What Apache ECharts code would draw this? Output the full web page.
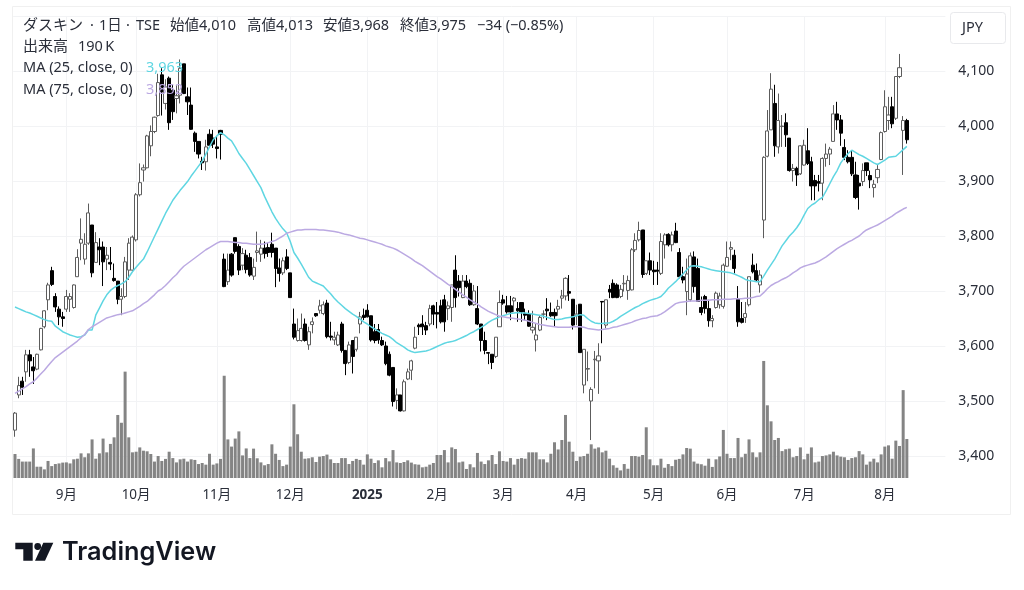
<!DOCTYPE html>
<html>
<head>
<meta charset="utf-8">
<style>
  html, body { margin: 0; padding: 0; background: #fff; }
  #chart { width: 1024px; height: 590px; }
</style>
<script src="https://cdn.jsdelivr.net/npm/echarts@6/dist/echarts.min.js"></script>
</head>
<body>
<div id="chart"></div>
<script>
// ローソク足 (one row = 10 bars)
var opens = [
  3447,3511,3536,3553,3584,3562,3558,3593,3635,3684,
  3737,3690,3667,3653,3667,3685,3670,3726,3787,3758,
  3787,3820,3752,3780,3780,3758,3752,3723,3718,3685,
  3690,3738,3738,3793,3875,3920,3924,3964,3990,4019,
  4093,4041,4087,4065,4050,4056,4113,4053,4038,3987,
  3972,3936,3935,3985,3978,3962,3992,3758,3717,3767,
  3797,3781,3747,3765,3761,3727,3770,3767,3778,3779,
  3785,3778,3742,3733,3762,3733,3640,3610,3610,3640,
  3602,3639,3659,3665,3659,3678,3618,3611,3602,3640,
  3592,3570,3610,3594,3640,3656,3665,3655,3626,3630,
  3610,3600,3585,3561,3501,3511,3482,3540,3556,3596,
  3638,3640,3637,3640,3673,3661,3673,3684,3668,3670,
  3738,3718,3688,3718,3714,3675,3668,3640,3610,3588,
  3585,3581,3635,3684,3673,3673,3682,3668,3679,3659,
  3658,3629,3611,3629,3658,3667,3661,3661,3667,3687,
  3691,3699,3685,3655,3676,3529,3558,3500,3575,3573,
  3681,3638,3703,3714,3711,3690,3713,3701,3702,3775,
  3793,3811,3732,3755,3738,3738,3732,3784,3803,3784,
  3809,3770,3726,3699,3684,3762,3741,3670,3690,3668,
  3646,3670,3675,3672,3745,3776,3765,3685,3650,3652,
  3675,3747,3737,3711,3829,3945,3993,4041,3962,3999,
  4006,3978,3919,3923,3913,3929,3955,3935,3901,3899,
  3896,3941,3949,3972,4022,4011,3961,3943,3943,3911,
  3896,3899,3933,3910,3888,3906,3939,3990,4010,4035,
  4014,4090,3992,4010
]
var closes = [
  3478,3528,3525,3584,3573,3555,3585,3632,3664,3711,
  3712,3671,3653,3650,3690,3690,3711,3761,3794,3785,
  3842,3733,3788,3775,3753,3765,3749,3719,3685,3690,
  3753,3787,3798,3875,3897,3924,3982,3990,4016,4079,
  4062,4071,4006,4026,4055,4105,4059,4044,3994,3972,
  3949,3933,3962,3965,3967,3959,3985,3708,3738,3729,
  3772,3738,3768,3739,3729,3743,3773,3778,3768,3770,
  3770,3741,3732,3755,3741,3688,3616,3628,3632,3610,
  3626,3644,3655,3673,3675,3617,3616,3616,3620,3592,
  3568,3602,3581,3616,3653,3652,3653,3611,3610,3611,
  3602,3568,3547,3499,3511,3482,3535,3553,3573,3616,
  3635,3635,3629,3668,3658,3658,3644,3644,3673,3711,
  3688,3706,3718,3708,3675,3700,3640,3610,3592,3587,
  3570,3616,3679,3678,3662,3662,3687,3664,3662,3656,
  3636,3634,3620,3652,3658,3664,3655,3655,3672,3691,
  3723,3696,3638,3658,3588,3594,3559,3521,3576,3582,
  3680,3684,3698,3688,3688,3703,3714,3719,3775,3792,
  3810,3730,3755,3738,3735,3736,3790,3802,3784,3802,
  3788,3726,3720,3731,3764,3708,3681,3661,3668,3646,
  3650,3696,3691,3747,3761,3779,3741,3644,3643,3659,
  3726,3735,3720,3729,3943,3991,4067,3964,4010,4000,
  3984,3919,3923,3911,3964,3965,3932,3891,3891,3896,
  3941,3949,3958,4022,4011,3987,3943,3935,3913,3870,
  3891,3919,3919,3902,3894,3921,3988,4035,4020,4004,
  4090,4106,4010,3975
]
var lows = [
  3435,3505,3511,3535,3544,3531,3556,3592,3632,3665,
  3709,3662,3638,3635,3662,3662,3668,3726,3756,3748,
  3784,3725,3752,3747,3709,3738,3738,3717,3676,3656,
  3687,3720,3735,3790,3872,3899,3923,3945,3987,4017,
  4019,4030,3993,4011,4023,4041,4058,4020,3993,3953,
  3941,3920,3919,3962,3960,3941,3939,3707,3711,3726,
  3768,3729,3738,3732,3726,3720,3753,3753,3759,3762,
  3761,3707,3717,3729,3738,3688,3612,3608,3608,3608,
  3593,3623,3653,3659,3656,3614,3610,3602,3600,3588,
  3547,3567,3550,3590,3623,3647,3652,3608,3605,3604,
  3600,3565,3545,3490,3485,3481,3481,3538,3538,3594,
  3620,3620,3620,3636,3638,3632,3641,3626,3647,3644,
  3670,3690,3687,3705,3673,3673,3638,3590,3585,3567,
  3558,3578,3635,3675,3659,3647,3662,3644,3644,3647,
  3635,3623,3590,3627,3650,3647,3653,3636,3655,3668,
  3683,3682,3630,3638,3588,3514,3536,3429,3523,3513,
  3605,3632,3687,3687,3687,3687,3699,3684,3701,3771,
  3790,3724,3729,3729,3711,3711,3729,3759,3781,3772,
  3787,3723,3714,3656,3681,3697,3681,3656,3659,3635,
  3634,3668,3668,3668,3744,3756,3732,3635,3641,3642,
  3672,3732,3717,3697,3796,3943,3993,3944,3950,3962,
  3962,3917,3899,3891,3911,3928,3929,3865,3865,3881,
  3865,3926,3929,3972,3993,3964,3938,3932,3909,3867,
  3848,3891,3909,3887,3870,3896,3938,3988,3993,3996,
  4011,4087,3911,3968
]
var highs = [
  3480,3544,3544,3593,3593,3580,3586,3633,3665,3715,
  3744,3696,3672,3662,3702,3696,3712,3776,3832,3805,
  3859,3820,3807,3796,3790,3780,3780,3750,3718,3705,
  3762,3796,3801,3878,3932,3930,3984,4001,4017,4095,
  4105,4085,4090,4075,4075,4121,4113,4070,4070,3990,
  3972,3944,3975,3994,3993,3981,3993,3768,3768,3769,
  3797,3785,3778,3775,3769,3759,3808,3793,3790,3787,
  3806,3778,3759,3761,3776,3733,3668,3650,3659,3650,
  3635,3652,3660,3684,3681,3684,3644,3626,3626,3644,
  3592,3608,3610,3616,3662,3668,3676,3655,3640,3640,
  3617,3608,3590,3561,3523,3511,3539,3559,3575,3635,
  3641,3656,3644,3675,3675,3680,3684,3693,3681,3711,
  3765,3729,3729,3729,3721,3711,3709,3640,3626,3588,
  3585,3616,3701,3693,3691,3691,3689,3680,3679,3668,
  3665,3664,3641,3656,3665,3687,3679,3668,3684,3702,
  3725,3729,3685,3675,3676,3594,3590,3525,3591,3605,
  3681,3684,3711,3721,3714,3711,3729,3728,3778,3805,
  3826,3811,3755,3770,3755,3753,3805,3805,3805,3808,
  3824,3778,3744,3759,3770,3772,3759,3690,3693,3684,
  3656,3699,3697,3750,3790,3790,3775,3709,3680,3680,
  3726,3768,3750,3738,3945,4029,4096,4075,4059,4020,
  4023,3978,3931,3926,3965,3975,3996,3944,3911,3911,
  3943,3968,3962,4038,4044,4020,3976,3956,3956,3935,
  3911,3932,3933,3919,3902,3929,3990,4065,4053,4053,
  4090,4131,4018,4013
]
// 出来高 (K)
var volumes = [
  117,93,80,80,80,144,55,55,42,83,
  58,68,71,75,76,71,91,94,120,101,
  120,188,94,120,192,125,166,198,307,269,
  518,198,125,128,149,133,130,117,80,107,
  83,93,128,97,76,91,94,80,91,88,
  68,73,65,118,65,71,93,498,188,153,
  192,227,110,144,97,143,96,76,62,68,
  164,118,88,58,65,153,359,213,128,94,
  96,101,78,104,107,114,91,73,73,97,
  97,68,83,93,88,65,115,94,73,86,
  52,97,81,136,76,73,78,86,75,67,
  65,52,55,65,73,112,112,136,76,149,
  141,76,80,44,67,52,122,80,68,86,
  112,68,130,83,80,97,65,93,97,94,
  125,125,125,91,91,76,118,174,139,185,
  307,177,128,83,104,107,118,164,143,149,
  125,133,94,62,50,37,68,45,107,107,
  104,112,247,91,62,62,94,50,68,58,
  89,93,115,146,143,80,70,67,60,94,
  54,91,105,234,118,97,97,195,101,118,
  188,125,101,125,570,354,276,185,195,131,
  140,143,101,107,149,91,118,149,76,80,
  107,110,115,128,110,104,101,88,97,101,
  131,115,65,80,94,76,115,153,159,94,
  182,156,428,190
]
var ma25 = [
  3671,3668,3665,3662,3660,3657,3654,3651,3648,3646,
  3645,3636,3631,3626,3623,3620,3618,3616,3617,3620,
  3629,3629,3656,3669,3682,3693,3701,3706,3710,3713,
  3717,3725,3735,3743,3751,3758,3771,3785,3799,3813,
  3827,3841,3853,3865,3874,3883,3891,3899,3909,3918,
  3927,3936,3949,3962,3975,3982,3988,3984,3978,3973,
  3962,3950,3941,3932,3921,3910,3899,3888,3872,3858,
  3844,3832,3822,3813,3806,3790,3770,3760,3749,3737,
  3725,3718,3715,3712,3709,3702,3695,3687,3680,3674,
  3668,3663,3658,3654,3649,3644,3640,3635,3631,3627,
  3623,3620,3617,3612,3606,3602,3598,3593,3590,3588,
  3589,3590,3591,3593,3596,3599,3602,3605,3607,3608,
  3610,3613,3616,3619,3623,3626,3630,3634,3638,3643,
  3647,3650,3653,3655,3657,3659,3660,3661,3660,3660,
  3659,3658,3657,3656,3654,3652,3650,3648,3648,3649,
  3651,3652,3653,3655,3657,3656,3650,3645,3642,3641,
  3641,3642,3642,3645,3649,3654,3658,3662,3666,3670,
  3673,3677,3680,3683,3685,3687,3690,3697,3705,3711,
  3717,3724,3731,3738,3745,3746,3745,3744,3742,3740,
  3738,3737,3736,3735,3734,3733,3731,3728,3725,3721,
  3719,3718,3717,3717,3727,3738,3748,3758,3770,3782,
  3791,3800,3807,3815,3825,3838,3850,3856,3860,3866,
  3870,3882,3895,3908,3919,3933,3942,3950,3956,3952,
  3948,3945,3941,3937,3933,3930,3934,3938,3943,3944,
  3945,3951,3957,3963
]
var ma75 = [
  3514,3518,3522,3526,3531,3535,3542,3549,3556,3564,
  3572,3579,3584,3589,3594,3599,3604,3609,3615,3621,
  3630,3635,3639,3643,3647,3651,3653,3655,3657,3658,
  3660,3662,3664,3668,3672,3677,3681,3687,3693,3700,
  3704,3710,3717,3724,3730,3738,3745,3750,3755,3760,
  3765,3770,3775,3779,3783,3787,3790,3790,3790,3789,
  3788,3788,3787,3787,3786,3785,3785,3785,3786,3788,
  3790,3792,3796,3800,3805,3807,3809,3811,3811,3812,
  3812,3812,3812,3811,3811,3810,3809,3808,3807,3805,
  3803,3802,3800,3798,3796,3795,3793,3791,3789,3787,
  3785,3782,3780,3778,3775,3771,3767,3763,3759,3754,
  3750,3746,3741,3736,3731,3726,3722,3717,3712,3708,
  3703,3698,3693,3689,3684,3680,3676,3671,3667,3663,
  3660,3657,3654,3653,3652,3651,3650,3649,3648,3647,
  3645,3643,3641,3639,3638,3637,3636,3635,3634,3634,
  3634,3634,3635,3635,3635,3634,3632,3631,3630,3629,
  3630,3631,3632,3634,3635,3637,3639,3641,3643,3646,
  3648,3650,3651,3653,3654,3655,3658,3662,3667,3672,
  3677,3679,3680,3681,3682,3682,3682,3683,3683,3683,
  3684,3684,3684,3685,3685,3685,3686,3686,3686,3687,
  3687,3688,3690,3691,3697,3704,3710,3714,3717,3721,
  3724,3728,3733,3737,3742,3745,3747,3749,3751,3754,
  3758,3762,3767,3772,3777,3781,3785,3789,3792,3796,
  3800,3806,3811,3814,3817,3820,3824,3828,3832,3836,
  3841,3845,3849,3852
]
var monthTicks = [14, 33, 55, 75, 96, 115, 133, 153, 174, 194, 215, 237]
var monthLabels = ['9月', '10月', '11月', '12月', '2025', '2月', '3月', '4月', '5月', '6月', '7月', '8月']
var emptySlots = 10 // 最新バーの右の余白

var fontName = '"Noto Sans", "Noto Sans CJK JP", sans-serif'
var textColor = '#2a2e39'

var categories = []
for (var i = 0; i < opens.length + emptySlots; i++) categories.push(String(i))
var candles = opens.map(function (o, i) {
  return [o, closes[i], lows[i], highs[i]]
})

function isMonth(index) {
  return monthTicks.indexOf(index) >= 0
}

function label(x, y, text, fill, size) {
  return {
    type: 'text',
    z: 100,
    style: { x: x, y: y, text: text, fill: fill || textColor, font: (size || 14.5) + 'px ' + fontName, verticalAlign: 'middle' },
  }
}

var myChart = echarts.init(document.getElementById('chart'))

var option = {
  animation: false,
  backgroundColor: '#fff',
  grid: [
    { left: 13.17, width: 932.2, top: 16, height: 495 },
    { left: 13.17, width: 932.2, top: 16, height: 462 },
  ],
  xAxis: [
    { type: 'category', gridIndex: 0, data: categories, show: false },
    {
      type: 'category',
      gridIndex: 1,
      data: categories,
      axisLine: { show: false },
      axisTick: { show: false },
      splitLine: {
        show: true,
        alignWithLabel: true,
        interval: function (index) { return isMonth(index) },
        lineStyle: { color: '#f2f3f5', width: 1 },
      },
      axisLabel: {
        interval: function (index) { return isMonth(index) },
        hideOverlap: false,
        margin: 10,
        fontFamily: fontName,
        fontSize: 13.5,
        color: textColor,
        formatter: function (value) {
          var name = monthLabels[monthTicks.indexOf(Number(value))]
          return name === '2025' ? '{year|2025}' : name
        },
        rich: { year: { fontFamily: fontName, fontSize: 13.5, fontWeight: 'bold', color: textColor } },
      },
    },
  ],
  yAxis: [
    {
      type: 'value',
      gridIndex: 0,
      position: 'right',
      min: 3300,
      max: 4200,
      interval: 100,
      axisLine: { show: false },
      axisTick: { show: false },
      splitLine: { show: true, showMinLine: false, lineStyle: { color: '#f2f3f5', width: 1 } },
      axisLabel: {
        margin: 13,
        padding: [0, 0, 2, 0],
        showMinLabel: false,
        showMaxLabel: false,
        fontFamily: fontName,
        fontSize: 14,
        color: textColor,
        formatter: function (value) { return value.toLocaleString('en-US') },
      },
    },
    { type: 'value', gridIndex: 1, min: 0, max: 2250, show: false },
  ],
  series: [
    {
      name: '出来高',
      type: 'bar',
      xAxisIndex: 1,
      yAxisIndex: 1,
      data: volumes,
      barWidth: 3,
      itemStyle: { color: '#848484' },
      z: 1,
    },
    {
      name: 'ダスキン',
      type: 'candlestick',
      xAxisIndex: 0,
      yAxisIndex: 0,
      data: candles,
      barWidth: 3.6,
      itemStyle: { color: '#ffffff', color0: '#000000', borderColor: '#5c5c5c', borderColor0: '#000000', borderWidth: 1 },
      z: 2,
    },
    {
      name: 'MA 25',
      type: 'line',
      xAxisIndex: 0,
      yAxisIndex: 0,
      data: ma25,
      showSymbol: false,
      lineStyle: { color: '#5fd6e2', width: 1.5 },
      z: 3,
    },
    {
      name: 'MA 75',
      type: 'line',
      xAxisIndex: 0,
      yAxisIndex: 0,
      data: ma75,
      showSymbol: false,
      lineStyle: { color: '#bba9e2', width: 1.5 },
      z: 3,
    },
  ],
  graphic: [
    { type: 'rect', z: 0, shape: { x: 12.5, y: 6.5, width: 998, height: 508 }, style: { fill: 'none', stroke: '#f0f0f0', lineWidth: 1 } },
    { type: 'rect', z: 100, shape: { x: 950.5, y: 12.5, width: 55, height: 31, r: 3 }, style: { fill: '#fff', stroke: '#e8e9ec', lineWidth: 1 } },
    label(962, 28, 'JPY'),
    label(23, 26, 'ダスキン', textColor, 15),
    label(90, 26, '·'),
    label(99, 26, '1日'),
    label(126, 26, '·'),
    label(136, 26, 'TSE'),
    label(170, 26, '始値4,010'),
    label(247, 26, '高値4,013'),
    label(323, 26, '安値3,968'),
    label(400, 26, '終値3,975'),
    label(477, 26, '−34 (−0.85%)'),
    label(23, 47, '出来高', textColor, 15),
    label(78, 47, '190\u2009K'),
    label(23, 68, 'MA (25, close, 0)'),
    label(146, 68, '3,963', '#5fd6e2'),
    label(23, 90, 'MA (75, close, 0)'),
    label(146, 90, '3,852', '#bba9e2'),
    // TradingView ロゴ
    { type: 'polygon', z: 100, shape: { points: [[15.3, 542.7], [32.7, 542.7], [32.7, 560.7], [23.3, 560.7], [23.3, 549.3], [15.3, 549.3]] }, style: { fill: '#131722' } },
    { type: 'circle', z: 100, shape: { cx: 37.7, cy: 546.5, r: 3.4 }, style: { fill: '#131722' } },
    { type: 'polygon', z: 100, shape: { points: [[43.3, 542.7], [53.3, 542.7], [45, 560.7], [35, 560.7]] }, style: { fill: '#131722' } },
    { type: 'text', z: 100, style: { x: 62, y: 552, text: 'TradingView', fill: '#131722', font: '600 25.3px Inter, sans-serif', verticalAlign: 'middle' } },
  ],
}

myChart.setOption(option)
</script>
</body>
</html>
